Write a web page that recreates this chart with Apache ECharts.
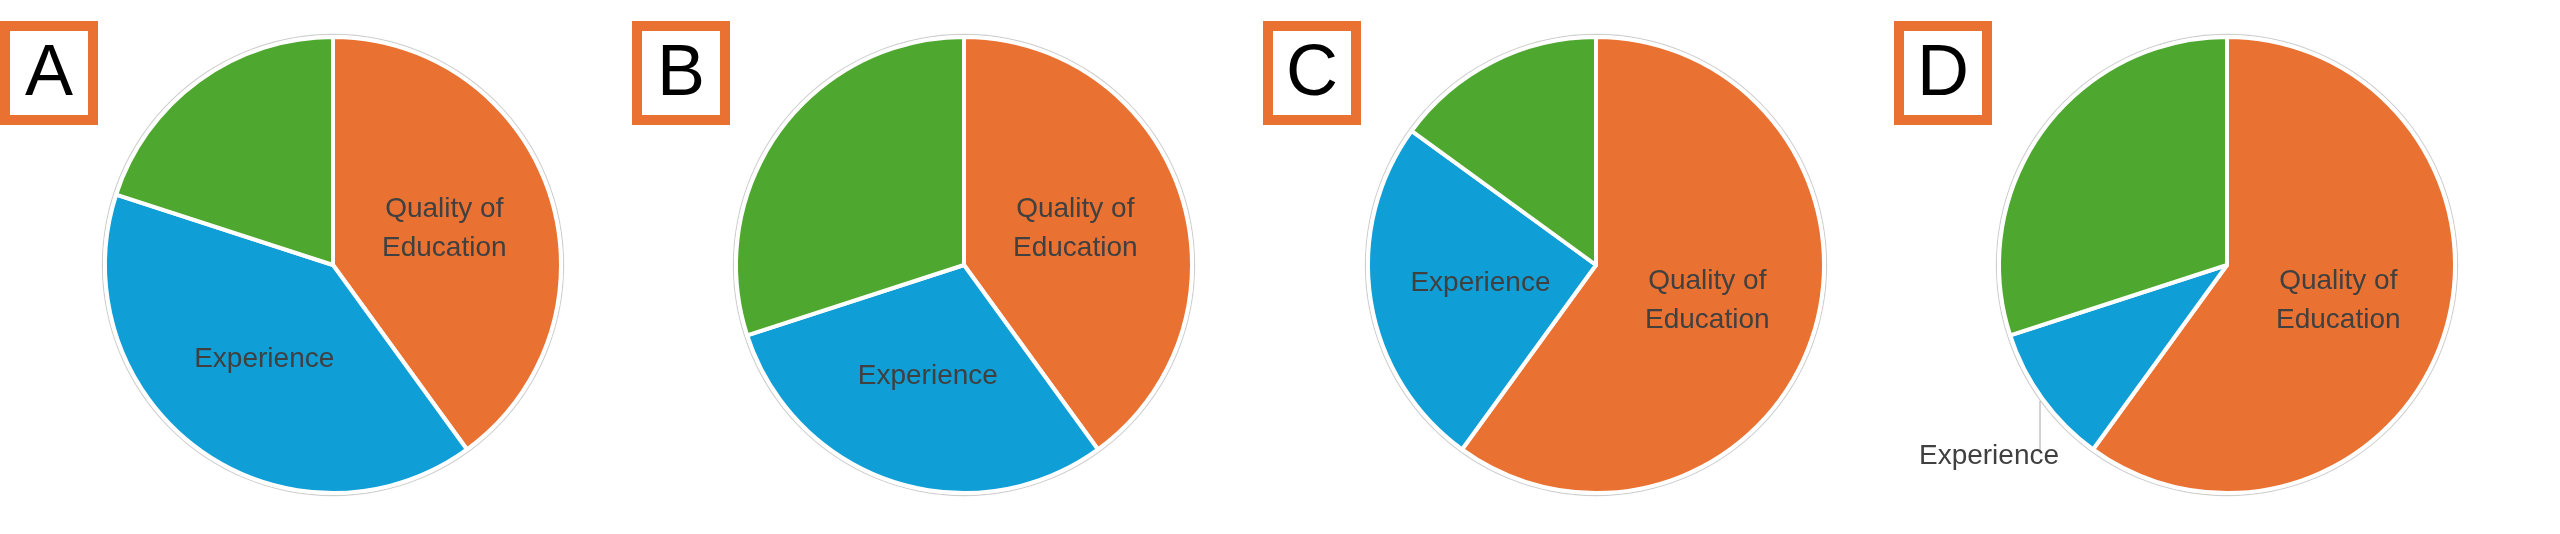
<!DOCTYPE html>
<html>
<head>
<meta charset="utf-8">
<script src="https://cdn.jsdelivr.net/npm/echarts@6/dist/echarts.min.js"></script>
<style>
  html, body { margin: 0; padding: 0; background: #ffffff; }
  #chart { width: 2560px; height: 534px; }
</style>
</head>
<body>
<div id="chart"></div>
<script>
// ---- data ----
const panelLetters = ['A', 'B', 'C', 'D'];
const categories = ['Quality of Education', 'Experience', 'Other'];
const sliceLabels = ['Quality of\nEducation', 'Experience', ''];
const valuesA = [40, 40, 20];
const valuesB = [40, 30, 30];
const valuesC = [60, 25, 15];
const valuesD = [60, 10, 30];
const panelValues = [valuesA, valuesB, valuesC, valuesD];

// ---- layout / style ----
const colors = ['#E97132', '#0F9ED5', '#4EA72E'];
const boxColor = '#E97132';
const textColor = '#404040';
const centersX = [333, 964, 1596, 2227];
const centerY = 265;
const R = 228;
const boxLeft = [0, 632, 1263, 1894];
const labelFont = 'Liberation Sans, Arial, sans-serif';

const chart = echarts.init(document.getElementById('chart'), null, { renderer: 'canvas' });

const series = [];
const graphics = [];

panelValues.forEach((vals, p) => {
  const cx = centersX[p];
  // faint outline ring around each pie
  series.push({
    type: 'pie',
    silent: true,
    z: 1,
    center: [cx, centerY],
    radius: [R + 2, R + 3.2],
    startAngle: 90,
    label: { show: false },
    labelLine: { show: false },
    itemStyle: { color: '#cfcfcf', borderWidth: 0 },
    data: [{ value: 1, name: 'outline' }]
  });

  const outsideIdx = (p === 3) ? 1 : -1;
  series.push({
    type: 'pie',
    z: 2,
    center: [cx, centerY],
    radius: R,
    startAngle: 90,
    clockwise: true,
    avoidLabelOverlap: false,
    animation: false,
    itemStyle: { borderColor: '#ffffff', borderWidth: 4 },
    label: {
      show: true,
      position: 'inside',
      color: textColor,
      fontFamily: labelFont,
      fontSize: 28,
      lineHeight: 39,
      align: 'center',
      formatter: (prm) => sliceLabels[prm.dataIndex]
    },
    labelLine: { show: false },
    emphasis: { disabled: true },
    labelLayout: (p === 3) ? function (params) {
      if (params.dataIndex !== 1) return {};
      return {
        x: cx - 238,
        y: centerY + 191,
        align: 'center',
        verticalAlign: 'middle',
        labelLinePoints: [[cx - 187, centerY + 136], [cx - 187, centerY + 160], [cx - 187, centerY + 185]]
      };
    } : undefined,
    data: vals.map((v, i) => {
      const item = {
        value: v,
        name: categories[i],
        itemStyle: { color: colors[i] }
      };
      if (i === 2) item.label = { show: false };
      if (i === outsideIdx) {
        item.label = { show: true, position: 'outside', color: textColor, fontSize: 28 };
        item.labelLine = { show: true, lineStyle: { color: '#a6a6a6', width: 1 } };
      }
      return item;
    })
  });

  // panel letter box
  graphics.push({
    type: 'group',
    left: boxLeft[p],
    top: 21,
    children: [
      {
        type: 'rect',
        shape: { x: 5, y: 5, width: 88, height: 94 },
        style: { fill: '#ffffff', stroke: boxColor, lineWidth: 10 }
      },
      {
        type: 'text',
        x: 49,
        y: 54,
        style: {
          text: panelLetters[p],
          fill: '#000000',
          font: '72px "Liberation Sans", Arial, sans-serif',
          textAlign: 'center',
          textVerticalAlign: 'middle'
        }
      }
    ]
  });
});

chart.setOption({
  backgroundColor: '#ffffff',
  animation: false,
  series: series,
  graphic: graphics
});
</script>
</body>
</html>
